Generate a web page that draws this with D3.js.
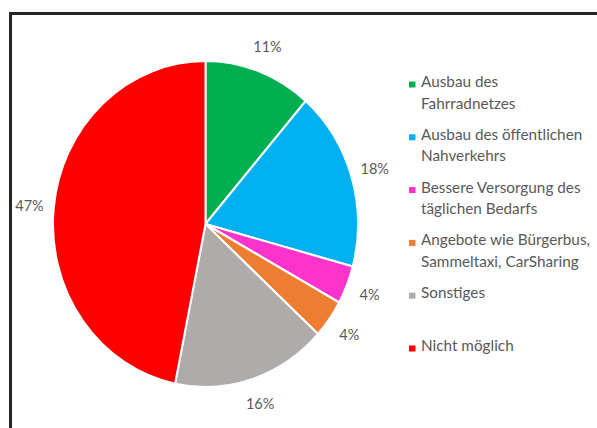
<!DOCTYPE html>
<html>
<head>
<meta charset="utf-8">
<script src="https://cdn.jsdelivr.net/npm/d3@7"></script>
<style>
  html, body { margin: 0; padding: 0; background: #fff; }
</style>
</head>
<body>
<div id="chart"></div>
<script>
(function() {
  var FONT = 'Lato, "Open Sans", sans-serif';
  var categories = [
    ['Ausbau des', 'Fahrradnetzes'],
    ['Ausbau des öffentlichen', 'Nahverkehrs'],
    ['Bessere Versorgung des', 'täglichen Bedarfs'],
    ['Angebote wie Bürgerbus,', 'Sammeltaxi, CarSharing'],
    ['Sonstiges'],
    ['Nicht möglich']
  ];
  var shares = [11.4, 17.8, 3.8, 3.8, 16.4, 46.8];
  var labels = ['11%', '18%', '4%', '4%', '16%', '47%'];
  var colors = ['#00b050', '#00b0f0', '#ff33cc', '#ed7d31', '#afabab', '#ff0000'];

  var w = 597, h = 428;
  var cx = 205.5, cy = 224;
  var rx = 152.5, ry = 163;
  var ky = ry / rx;

  var svg = d3.select('#chart').append('svg').attr('width', w).attr('height', h);

  // Frame (only left and top edges visible)
  svg.append('line').attr('x1', 10.5).attr('x2', 10.5).attr('y1', 12).attr('y2', h)
    .attr('stroke', '#262626').attr('stroke-width', 3);
  svg.append('line').attr('x1', 9).attr('x2', w).attr('y1', 13.5).attr('y2', 13.5)
    .attr('stroke', '#262626').attr('stroke-width', 3);

  var data = shares.map(function(v, i) { return { value: v, i: i }; });
  var pie = d3.pie().sort(null).value(function(d) { return d.value; });
  var arcs = pie(data);
  var arc = d3.arc().innerRadius(0).outerRadius(rx);
  var labelArc = d3.arc().innerRadius(rx * 1.16).outerRadius(rx * 1.16);

  // Slices (pie is slightly stretched vertically, like the source)
  var pg = svg.append('g').attr('transform', 'translate(' + cx + ',' + cy + ') scale(1,' + ky + ')');
  pg.selectAll('path').data(arcs).join('path')
    .attr('d', arc)
    .attr('fill', function(d) { return colors[d.data.i]; })
    .attr('stroke', '#fff').attr('stroke-width', 2);

  // Data labels
  var lg = svg.append('g').attr('transform', 'translate(' + cx + ',' + cy + ')');
  lg.selectAll('text').data(arcs).join('text')
    .attr('x', function(d) { return labelArc.centroid(d)[0]; })
    .attr('y', function(d) { return labelArc.centroid(d)[1] * ky; })
    .attr('text-anchor', 'middle').attr('dominant-baseline', 'central')
    .attr('fill', '#595959').attr('font-size', '14.5px').attr('font-family', FONT)
    .text(function(d) { return labels[d.data.i]; });

  // Legend
  var yLeg = d3.scaleLinear().domain([0, 5]).range([81, 345]);
  var leg = svg.append('g');
  categories.forEach(function(lines, i) {
    var y0 = yLeg(i);
    leg.append('rect').attr('x', 409).attr('y', y0 + 0.5).attr('width', 6.5).attr('height', 6)
      .attr('fill', colors[i]);
    lines.forEach(function(t, j) {
      leg.append('text').attr('x', 421).attr('y', y0 + j * 21.5)
        .attr('dominant-baseline', 'central')
        .attr('fill', '#595959').attr('font-size', '15.3px').attr('font-family', FONT)
        .text(t);
    });
  });
})();
</script>
</body>
</html>
